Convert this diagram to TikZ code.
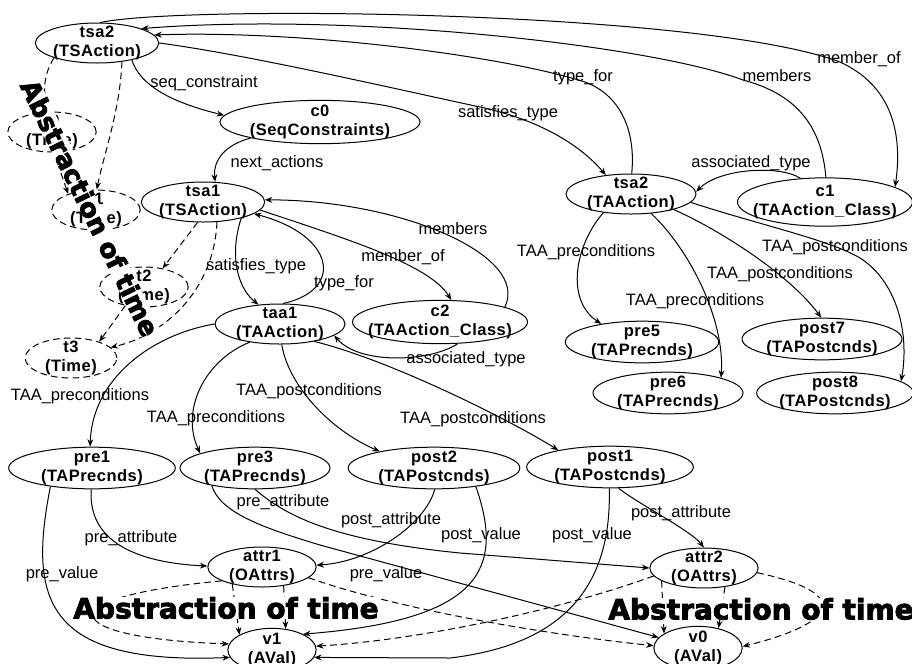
\documentclass[tikz,border=0pt]{standalone}
\usepackage{fontspec}
\setmainfont{Liberation Sans}
\newfontfamily\nodefont{Liberation Sans}[LetterSpace=3]
\newfontfamily\heavyfont{DejaVu Sans}[BoldFeatures={FakeBold=3}]
\usetikzlibrary{shapes.geometric,arrows.meta}

\begin{document}
\begin{tikzpicture}[x=0.6pt, y=-0.6pt, line width=0.6pt,
    obj/.style={ellipse, draw, align=center, inner xsep=-8pt, inner ysep=-3pt,
      font=\nodefont\fontsize{9.9}{11.4}\selectfont\bfseries},
    tsact/.style={obj, minimum width=74pt, minimum height=24pt},
    taact/.style={obj, minimum width=78pt, minimum height=24pt},
    clsobj/.style={obj, minimum width=105pt, minimum height=26pt},
    seqobj/.style={obj, minimum width=120pt, minimum height=26pt},
    precnd/.style={obj, minimum width=92pt, minimum height=25pt},
    postcnd/.style={obj, minimum width=98pt, minimum height=25pt},
    oattr/.style={obj, minimum width=65pt, minimum height=24pt},
    aval/.style={obj, minimum width=53pt, minimum height=26pt},
    timeobj/.style={obj, dash pattern=on 4pt off 2.5pt, minimum width=53pt, minimum height=24pt},
    lbl/.style={font=\fontsize{9.9}{11.4}\selectfont, inner sep=0pt},
    arr/.style={-{Stealth[length=4.5pt,width=3.5pt]}},
    tdash/.style={arr, dash pattern=on 4pt off 2.5pt},
    abst/.style={font=\heavyfont\fontsize{16.8}{18}\selectfont\bfseries, fill=white, inner sep=0pt}]
  \useasboundingbox (0,0) rectangle (912,663);

  % Actions and constraints
  \node[tsact] (tsa2s) at (97,43) {tsa2\\(TSAction)};
  \node[seqobj] (c0) at (320,122) {c0\\(SeqConstraints)};
  \node[tsact] (tsa1) at (203,202) {tsa1\\(TSAction)};
  \node[taact] (taa1) at (280,324) {taa1\\(TAAction)};
  \node[clsobj] (c2) at (440,322) {c2\\(TAAction\_Class)};
  \node[taact] (tsa2a) at (631,194) {tsa2\\(TAAction)};
  \node[clsobj, minimum height=29pt] (c1) at (825,202) {c1\\(TAAction\_Class)};

  % Times
  \node[timeobj] (t0) at (52,132) {t0\\(Time)};
  \node[timeobj] (t1) at (96,210) {t1\\(Time)};
  \node[timeobj] (t2) at (144,287) {t2\\(Time)};
  \node[timeobj, minimum width=55pt] (t3) at (71,358) {t3\\(Time)};

  % Pre- and postconditions
  \node[precnd] (pre5) at (642,342) {pre5\\(TAPrecnds)};
  \node[precnd, minimum width=90pt] (pre6) at (668,393) {pre6\\(TAPrecnds)};
  \node[postcnd, minimum width=96pt] (post7) at (822,339) {post7\\(TAPostcnds)};
  \node[postcnd, minimum width=94pt] (post8) at (835,393) {post8\\(TAPostcnds)};
  \node[precnd, minimum width=100pt] (pre1) at (92,468) {pre1\\(TAPrecnds)};
  \node[precnd, minimum width=90pt] (pre3) at (255,468) {pre3\\(TAPrecnds)};
  \node[postcnd, minimum width=103pt] (post2) at (434,468) {post2\\(TAPostcnds)};
  \node[postcnd, minimum width=100pt] (post1) at (610,467) {post1\\(TAPostcnds)};

  % Attributes and values
  \node[oattr] (attr1) at (262,567) {attr1\\(OAttrs)};
  \node[oattr] (attr2) at (704,568) {attr2\\(OAttrs)};
  \node[aval] (v1) at (272,650) {v1\\(AVal)};
  \node[aval] (v0) at (698,648) {v0\\(AVal)};

  % Top relations
  \draw[arr] (tsa2s.81) .. controls (180,5) and (700,10) .. (840,62) .. controls (890,85) and (903,130) .. (c1.12);
  \draw[arr] (c1.88) .. controls (822,130) and (800,95) .. (743,80) .. controls (650,45) and (350,12) .. (tsa2s.18);
  \draw[arr] (tsa2a.88) .. controls (636,130) and (620,95) .. (585,82) .. controls (500,55) and (300,30) .. (tsa2s.8);
  \draw[arr] (tsa2s.0) .. controls (250,55) and (400,90) .. (480,107) .. controls (540,120) and (580,145) .. (tsa2a.143);
  \draw[arr] (c1.136) .. controls (780,165) and (720,168) .. (tsa2a.2);
  \draw[arr] (tsa2s.-26) .. controls (140,85) and (170,102) .. (c0.176);
  \draw[arr] (c0.193) .. controls (225,145) and (213,160) .. (tsa1.59);

  % tsa2 (TAAction) conditions
  \draw[arr] (tsa2a.-146) .. controls (575,245) and (565,300) .. (pre5.156);
  \draw[arr] (tsa2a.-44) .. controls (690,250) and (725,320) .. (pre6.16);
  \draw[arr] (tsa2a.-20) .. controls (720,230) and (790,275) .. (post7.92);
  \draw[arr] (tsa2a.-8) .. controls (760,225) and (830,240) .. (860,258) .. controls (895,280) and (910,330) .. (post8.10);

  % tsa1, taa1 and c2
  \draw[arr] (tsa1.-23) .. controls (228,260) and (240,290) .. (taa1.138);
  \draw[arr] (taa1.82) .. controls (345,290) and (335,235) .. (tsa1.-13);
  \draw[arr] (tsa1.-8) .. controls (350,240) and (430,265) .. (c2.63);
  \draw[arr] (c2.13) .. controls (530,255) and (400,200) .. (tsa1.2);
  \draw[arr] (c2.-51) .. controls (430,362) and (360,365) .. (taa1.-12);

  % taa1 conditions
  \draw[arr] (taa1.180) .. controls (150,335) and (92,380) .. (pre1.95);
  \draw[arr] (taa1.-149) .. controls (205,360) and (180,410) .. (pre3.165);
  \draw[arr] (taa1.-85) .. controls (288,385) and (330,430) .. (post2.163);
  \draw[arr] (taa1.-27) .. controls (390,360) and (510,420) .. (post1.162);

  % attributes and values
  \draw[arr] (pre1.-92) .. controls (88,535) and (125,562) .. (attr1.179);
  \draw[arr] (pre1.-156) .. controls (28,600) and (45,665) .. (v1.-170);
  \draw[arr] (pre3.-90) .. controls (285,515) and (330,540) .. (460,553) -- (attr2.180);
  \draw[arr] (pre3.-158) .. controls (220,512) and (260,527) .. (320,545) -- (v0.165);
  \draw[arr] (post2.-88) .. controls (425,525) and (370,562) .. (attr1.2);
  \draw[arr] (post2.-24) .. controls (505,570) and (480,620) .. (v1.27);
  \draw[arr] (post1.-68) .. controls (640,505) and (690,530) .. (attr2.90);
  \draw[arr] (post1.-92) .. controls (612,590) and (560,645) .. (450,658) -- (v1.-10);

  % Abstraction of time (dashed)
  \draw[tdash] (tsa2s.-161) .. controls (40,80) and (45,100) .. (t0.95);
  \draw[tdash] (tsa2s.-37) .. controls (120,110) and (105,150) .. (t1.88);
  \draw[tdash] (t0.-85) -- (t1.150);
  \draw[tdash] (tsa1.-105) -- (t2.45);
  \draw[tdash] (tsa1.-55) .. controls (214,290) and (165,335) .. (t3.15);
  \draw[tdash] (t2.-135) -- (t3.30);
  \draw[tdash] (attr1.-161) .. controls (40,598) and (60,638) .. (v1.172);
  \draw[tdash] (attr1.-150) -- (v1.155);
  \draw[tdash] (attr1.-41) -- (v1.57);
  \draw[tdash] (attr1.-13) .. controls (400,610) and (550,635) .. (v0.177);
  \draw[tdash] (attr2.-171) .. controls (560,610) and (420,640) .. (v1.5);
  \draw[tdash] (attr2.-163) -- (v0.157);
  \draw[tdash] (attr2.-42) -- (v0.44);
  \draw[tdash] (attr2.-5) .. controls (860,595) and (830,625) .. (v0.2);

  % Labels
  \node[lbl] (lblmemberoftop) at (859,59) {member\_of};
  \node[lbl] (lblmemberstop) at (777,76) {members};
  \node[lbl] (lbltypefortop) at (583,77) {type\_for};
  \node[lbl] (lblsattop) at (508,113) {satisfies\_type};
  \node[lbl] (lblassoctop) at (751,163) {associated\_type};
  \node[lbl] (lblseq) at (204,83) {seq\_constraint};
  \node[lbl] (lblnext) at (277,163) {next\_actions};
  \node[lbl] (lblpre5) at (586,252) {TAA\_preconditions};
  \node[lbl] (lblpre6) at (695,301) {TAA\_preconditions};
  \node[lbl] (lblpost7) at (780,274) {TAA\_postconditions};
  \node[lbl] (lblpost8) at (835,247) {TAA\_postconditions};
  \node[lbl] (lblsat) at (256,266) {satisfies\_type};
  \node[lbl] (lbltypefor) at (344,283) {type\_for};
  \node[lbl] (lblmemberof) at (403,257) {member\_of};
  \node[lbl] (lblmembers) at (453,229) {members};
  \node[lbl] (lblassoc) at (466,359) {associated\_type};
  \node[lbl] (lblpre1) at (80,396) {TAA\_preconditions};
  \node[lbl] (lblpre3) at (216,418) {TAA\_preconditions};
  \node[lbl] (lblpost2) at (309,391) {TAA\_postconditions};
  \node[lbl] (lblpost1) at (473,419) {TAA\_postconditions};
  \node[lbl] (lblpreattr1) at (131,538) {pre\_attribute};
  \node[lbl] (lblprevalue1) at (62,574) {pre\_value};
  \node[lbl] (lblpreattr3) at (283,502) {pre\_attribute};
  \node[lbl] (lblprevalue3) at (386,574) {pre\_value};
  \node[lbl] (lblpostattr2) at (391,520) {post\_attribute};
  \node[lbl] (lblpostvalue2) at (481,535) {post\_value};
  \node[lbl] (lblpostattr1) at (681,513) {post\_attribute};
  \node[lbl] (lblpostvalue1) at (592,535) {post\_value};

  % Abstraction of time banners
  \node[abst, rotate=-64, font=\heavyfont\fontsize{15.5}{17}\selectfont\bfseries] (abstleft) at (90,208) {Abstraction of time};
  \node[abst] (abstmid) at (226,608) {Abstraction of time};
  \node[abst] (abstright) at (761,609) {Abstraction of time};
\end{tikzpicture}
\end{document}
